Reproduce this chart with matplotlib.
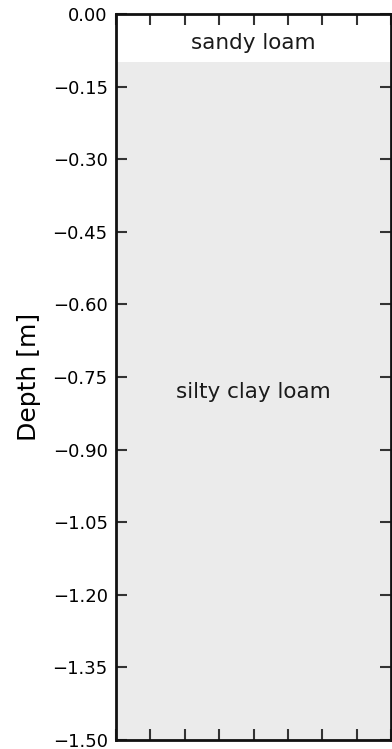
import matplotlib
matplotlib.use("Agg")
import matplotlib.pyplot as plt
import numpy as np

layer_names = ["sandy loam", "silty clay loam"]
layer_tops = [0.0, -0.1]
layer_bottoms = [-0.1, -1.5]
layer_colors = ["#ffffff", "#ebebeb"]
ytick_values = [0.0, -0.15, -0.30, -0.45, -0.60, -0.75, -0.90, -1.05, -1.20, -1.35, -1.50]

fig = plt.figure(figsize=(3.92, 7.49), dpi=100)
ax = fig.add_axes([116/392, 9/749, 275/392, 726/749])

for name, top, bot, col in zip(layer_names, layer_tops, layer_bottoms, layer_colors):
    ax.axhspan(bot, top, color=col, lw=0)
    ax.text(0.5, (top + bot) / 2 + (-0.01 if name == "sandy loam" else 0.02), name,
            ha="center", va="center", fontsize=15.5, color="#1a1a1a")

ax.set_xlim(0, 1)
ax.set_ylim(-1.5, 0)
ax.set_xticks(np.linspace(0, 1, 9))
ax.set_xticklabels([])
ax.set_yticks(ytick_values)
ax.set_yticklabels([f"{v:.2f}".replace("-", "\u2212") for v in ytick_values])
ax.tick_params(direction="in", top=True, right=True, length=8, width=1.5,
               color="#333333", labelsize=13, pad=6)
for s in ax.spines.values():
    s.set_linewidth(2)
    s.set_color("#111111")
ax.set_ylabel("Depth [m]", fontsize=18, labelpad=8)

fig.savefig("out.png", dpi=100)
